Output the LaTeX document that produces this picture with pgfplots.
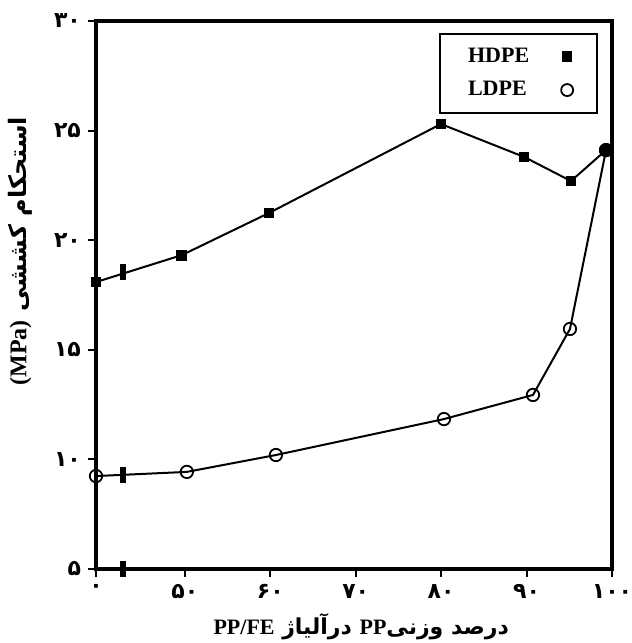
\documentclass[border=0pt]{standalone}
\usepackage{fontspec}
\setmainfont{Liberation Serif}
\newfontfamily\arabicfont[Script=Arabic]{DejaVu Sans}
\TeXXeTstate=1
\usepackage{pgfplots}
\pgfplotsset{compat=1.18}

\begin{document}
\begin{tikzpicture}
\useasboundingbox (-48pt,-37pt) rectangle (268pt,284.5pt);
\begin{axis}[
  at={(0,0)}, anchor=south west,
  scale only axis, width=258pt, height=274pt,
  xmin=39.6, xmax=100, ymin=5, ymax=30,
  xtick={39.6,50,60,70,80,90,100},
  xticklabels={۰,۵۰,۶۰,۷۰,۸۰,۹۰,۱۰۰},
  ytick={5,10,15,20,25,30},
  yticklabels={۵,۱۰,۱۵,۲۰,۲۵,۳۰},
  tick align=outside, tick pos=left, major tick length=4pt,
  axis line style={line width=1.6pt},
  every tick/.style={black, line width=1pt},
  tick label style={font=\arabicfont\bfseries\fontsize{11}{13}\selectfont},
  clip=false,
  xlabel={\arabicfont\bfseries\beginR درصد وزنی\beginL{\rmfamily\bfseries PP}\endL{} درآلیاژ \beginL{\rmfamily\bfseries PP/FE}\endL\endR},
  xlabel style={at={(axis description cs:0.514,-0.106)}, anchor=center, font=\fontsize{11}{13}\selectfont},
  ylabel={\arabicfont\bfseries\beginR استحکام کششی \beginL{\rmfamily\bfseries (MPa)}\endL\endR},
  ylabel style={at={(axis description cs:-0.147,0.58)}, anchor=center, font=\fontsize{12}{14}\selectfont},
  legend plot pos=right,
  legend cell align=left,
  legend style={at={(0.973,0.978)}, anchor=north east, draw=black, line width=0.9pt,
    font=\bfseries\fontsize{11}{13}\selectfont, inner xsep=12pt, inner ysep=5pt, row sep=4pt,
    /tikz/every odd column/.append style={column sep=14pt}},
]
\addplot[black, line width=1pt, mark=square*, mark size=2.2pt, forget plot]
  coordinates {(39.6,18.09)(49.65,19.32)(59.84,21.24)(79.98,25.30)(89.70,23.80)(95.20,22.70)(99.3,24.11)};
\addplot[black, line width=1pt, mark=o, mark size=3.1pt, mark options={line width=0.9pt}, forget plot]
  coordinates {(39.6,9.24)(50.23,9.43)(60.66,10.20)(80.33,11.84)(90.75,12.94)(95.08,15.95)(99.3,24.11)};
\addplot[only marks, black, mark=*, mark size=3.3pt, forget plot]
  coordinates {(99.3,24.11)};
\addplot[only marks, black, mark=square*, mark size=3.6pt, mark options={xscale=0.38}, forget plot]
  coordinates {(42.74,5)(42.74,18.55)(42.74,9.29)};
\addlegendimage{only marks, black, mark=square*, mark size=2.2pt}
\addlegendentry{HDPE}
\addlegendimage{only marks, black, mark=o, mark size=3pt, mark options={line width=0.9pt}}
\addlegendentry{LDPE}
\end{axis}
\end{tikzpicture}
\end{document}
